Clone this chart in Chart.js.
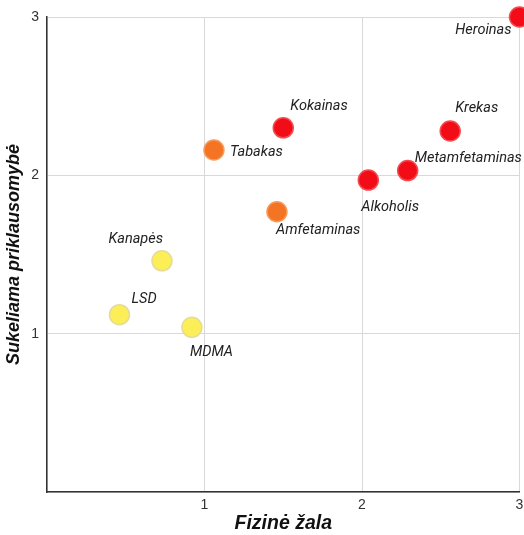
<!DOCTYPE html>
<html>
<head>
<meta charset="utf-8">
<script src="https://cdn.jsdelivr.net/npm/chart.js@4/dist/chart.umd.min.js"></script>
<style>
  html, body { margin: 0; padding: 0; background: #fff; overflow: hidden; }
  /* a bit wider than the window: Chart.js keeps a gap on the right for the last tick label */
  #wrap { width: 531px; height: 535px; }
</style>
</head>
<body>
<div id="wrap"><canvas id="chart"></canvas></div>
<script>
  // data
  const names = ['Heroinas', 'Kokainas', 'Krekas', 'Tabakas', 'Metamfetaminas', 'Alkoholis', 'Amfetaminas', 'Kanapės', 'LSD', 'MDMA'];
  const physicalHarm = [3.0, 1.50, 2.56, 1.06, 2.29, 2.04, 1.46, 0.73, 0.46, 0.92];
  const dependence = [3.0, 2.30, 2.28, 2.16, 2.03, 1.97, 1.77, 1.46, 1.12, 1.04];
  const groups = ['high', 'high', 'high', 'mid', 'high', 'high', 'mid', 'low', 'low', 'low'];
  const xTicks = [1, 2, 3];
  const yTicks = [1, 2, 3];

  const fill = { high: '#f20c17', mid: '#f47424', low: '#fbee57' };
  const edge = { high: '#f54a50', mid: '#f79a5c', low: '#e6dc9a' };
  // label offset from the point centre (px) and alignment
  const labelPos = [
    [-8, 13, 'right'], [7, -21, 'left'], [5, -23, 'left'], [16, 2, 'left'], [7, -12, 'left'],
    [-7, 27, 'left'], [-1, 19, 'left'], [1, -21, 'right'], [12, -15, 'left'], [-2, 25, 'left']
  ];

  const points = names.map((n, i) => ({ x: physicalHarm[i], y: dependence[i] }));

  const labelPlugin = {
    id: 'pointLabels',
    afterDatasetsDraw(chart) {
      const ctx = chart.ctx;
      const meta = chart.getDatasetMeta(0);
      ctx.save();
      ctx.font = 'italic 14.5px Roboto';
      ctx.fillStyle = '#222';
      ctx.textBaseline = 'middle';
      meta.data.forEach((el, i) => {
        const p = labelPos[i];
        ctx.textAlign = p[2];
        ctx.fillText(names[i], el.x + p[0], el.y + p[1]);
      });
      ctx.restore();
    }
  };

  const titleFont = { family: 'Liberation Sans', size: 18, weight: 'bold', style: 'italic' };
  const tickFont = { family: 'Liberation Sans', size: 14 };

  new Chart(document.getElementById('chart'), {
    type: 'scatter',
    data: {
      datasets: [{
        data: points,
        pointRadius: 10,
        pointHoverRadius: 10,
        borderWidth: 1.5,
        backgroundColor: groups.map(g => fill[g]),
        borderColor: groups.map(g => edge[g]),
        clip: false
      }]
    },
    options: {
      responsive: true,
      maintainAspectRatio: false,
      animation: false,
      layout: { padding: { top: 17, right: 0, left: 0, bottom: 0 } },
      plugins: { legend: { display: false }, tooltip: { enabled: false } },
      scales: {
        x: {
          type: 'linear', min: 0, max: 3,
          afterBuildTicks: s => { s.ticks = [0].concat(xTicks).map(v => ({ value: v })); },
          afterFit: s => { s.height = 43; s.paddingRight = 5; },
          grid: { color: '#d9d9d9', drawTicks: false },
          border: { color: '#333', width: 1.5 },
          ticks: { padding: 5, color: '#333', font: tickFont, callback: v => v === 0 ? '' : v },
          title: { display: true, text: 'Fizinė žala', color: '#111', padding: 0, font: { family: 'Liberation Sans', size: 19.5, weight: 'bold', style: 'italic' } }
        },
        y: {
          type: 'linear', min: 0, max: 3,
          afterBuildTicks: s => { s.ticks = [0].concat(yTicks).map(v => ({ value: v })); },
          afterFit: s => { s.width = 47; },
          grid: { color: '#d9d9d9', drawTicks: false },
          border: { color: '#333', width: 1.5 },
          ticks: { padding: 8, color: '#333', font: tickFont, callback: v => v === 0 ? '' : v },
          title: { display: true, text: 'Sukeliama priklausomybė', color: '#111', padding: { top: 3, bottom: 0 }, font: titleFont }
        }
      }
    },
    plugins: [labelPlugin]
  });
</script>
</body>
</html>
